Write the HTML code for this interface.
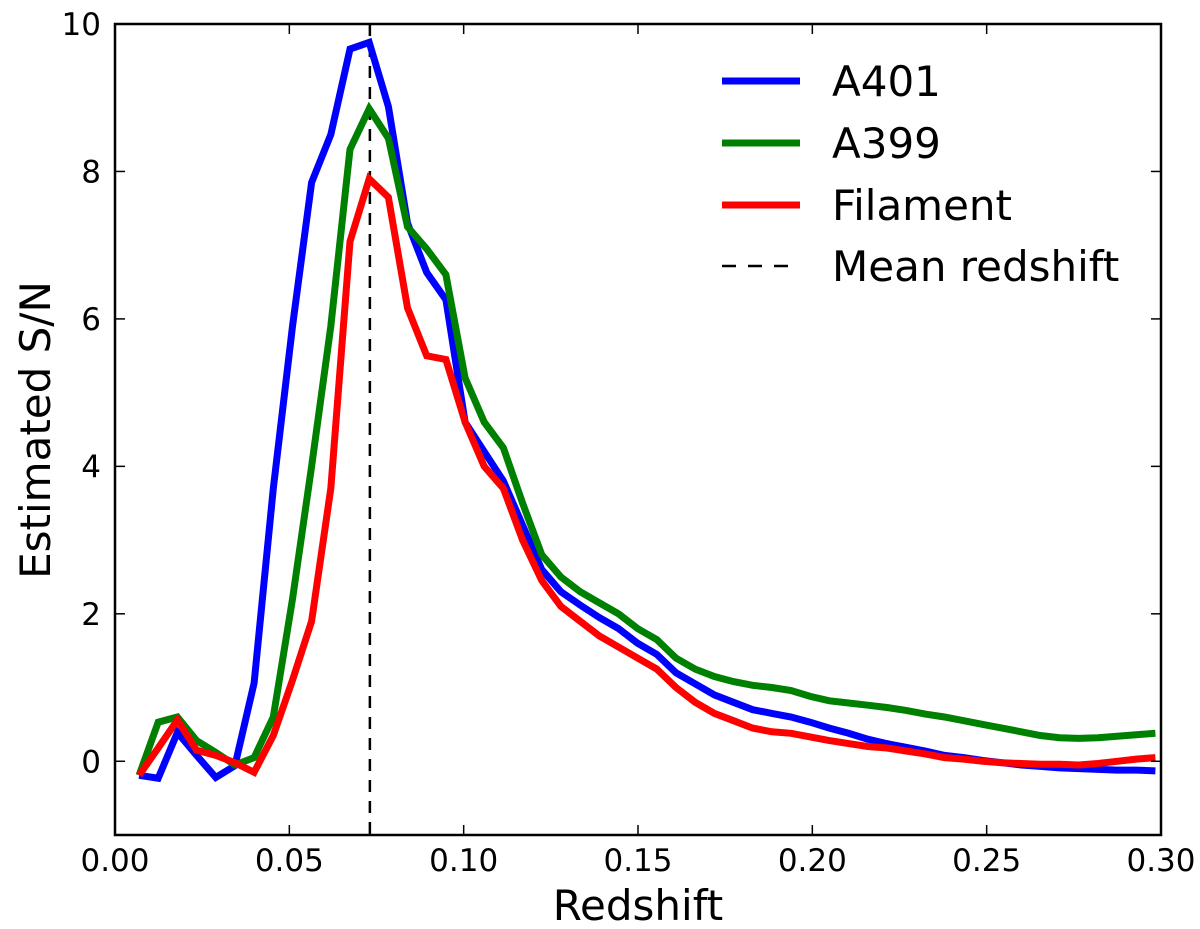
<!DOCTYPE html>
<html><head><meta charset="utf-8"><style>
html,body{margin:0;padding:0;background:#fff;}
svg{display:block;font-family:"DejaVu Sans","Liberation Sans",sans-serif;}
</style></head><body>
<svg id="chart" width="1200" height="929" viewBox="0 0 1200 929">
<defs><clipPath id="clip"><rect x="115" y="24" width="1046" height="811"/></clipPath></defs>
<g id="series" clip-path="url(#clip)"></g>
<g id="axes"></g>
</svg>
<script>
const redshift=[0.0069,0.0124,0.0179,0.0234,0.0289,0.0344,0.0399,0.0454,0.0509,0.0564,0.0619,0.0674,0.0729,0.0784,0.0839,0.0894,0.0949,0.1004,0.1059,0.1114,0.1169,0.1224,0.1279,0.1334,0.1389,0.1444,0.1499,0.1554,0.1609,0.1664,0.1719,0.1774,0.1829,0.1884,0.1939,0.1994,0.2049,0.2104,0.2159,0.2214,0.2269,0.2324,0.2379,0.2434,0.2489,0.2544,0.2599,0.2654,0.2709,0.2764,0.2819,0.2874,0.2929,0.2984];
const a401=[-0.19,-0.23,0.39,0.08,-0.22,-0.06,1.06,3.7,5.9,7.85,8.5,9.66,9.75,8.88,7.3,6.63,6.26,4.6,4.2,3.8,3.2,2.6,2.3,2.12,1.95,1.8,1.6,1.45,1.2,1.05,0.9,0.8,0.7,0.65,0.6,0.53,0.45,0.38,0.3,0.24,0.19,0.14,0.08,0.05,0.01,-0.02,-0.05,-0.07,-0.09,-0.1,-0.11,-0.12,-0.12,-0.13];
const a399=[-0.19,0.53,0.6,0.28,0.12,-0.05,0.05,0.6,2.2,4.0,5.9,8.3,8.85,8.45,7.25,6.95,6.6,5.2,4.6,4.25,3.5,2.8,2.5,2.3,2.15,2.0,1.8,1.65,1.4,1.25,1.15,1.08,1.03,1.0,0.96,0.88,0.82,0.79,0.76,0.73,0.69,0.64,0.6,0.55,0.5,0.45,0.4,0.35,0.32,0.31,0.32,0.34,0.36,0.38];
const filament=[-0.19,0.18,0.56,0.15,0.08,-0.02,-0.15,0.35,1.1,1.9,3.7,7.05,7.9,7.65,6.15,5.5,5.45,4.6,4.0,3.7,3.0,2.45,2.1,1.9,1.7,1.55,1.4,1.25,1.0,0.8,0.65,0.55,0.45,0.4,0.38,0.33,0.28,0.24,0.2,0.18,0.14,0.1,0.05,0.03,0.0,-0.02,-0.03,-0.04,-0.04,-0.05,-0.03,0.0,0.03,0.05];
const meanRedshift=0.0731;
const xTicks=[0,0.05,0.10,0.15,0.20,0.25,0.30];
const xTickLabels=["0.00","0.05","0.10","0.15","0.20","0.25","0.30"];
const yTicks=[0,2,4,6,8,10];
const yTickLabels=["0","2","4","6","8","10"];
const seriesNames=["A401","A399","Filament"];
const seriesColors=["#0000ff","#008000","#ff0000"];

const L=115,R=1161,T=24,B=835,xmin=0,xmax=0.30,ymin=-1,ymax=10;
const xs=v=>L+(v-xmin)/(xmax-xmin)*(R-L);
const ys=v=>B-(v-ymin)/(ymax-ymin)*(B-T);
const NS="http://www.w3.org/2000/svg";
function mk(tag,attrs,parent){const e=document.createElementNS(NS,tag);for(const k in attrs)e.setAttribute(k,attrs[k]);parent.appendChild(e);return e;}
const S=document.getElementById('series'),A=document.getElementById('axes');

const ml=mk('line',{x1:xs(meanRedshift),x2:xs(meanRedshift),y1:T,y2:B,stroke:'#000','stroke-width':2.5,'stroke-dasharray':'12,9'},S);



const allSeries=[a401,a399,filament];
const sNames=['a401-line','a399-line','filament-line'];
allSeries.forEach((arr,si)=>{
  const d=arr.map((v,i)=>(i?'L':'M')+xs(redshift[i]).toFixed(1)+','+ys(v).toFixed(1)).join(' ');
  const p=mk('path',{d:d,fill:'none',stroke:seriesColors[si],'stroke-width':7,'stroke-linejoin':'miter'},S);
  
  
});

const fr=mk('rect',{x:L,y:T,width:R-L,height:B-T,fill:'none',stroke:'#000','stroke-width':2.5},A);



xTicks.forEach((t,i)=>{
  const x=xs(t);
  mk('line',{x1:x,x2:x,y1:B,y2:B-10,stroke:'#000','stroke-width':1.5},A);
  mk('line',{x1:x,x2:x,y1:T,y2:T+10,stroke:'#000','stroke-width':1.5},A);
  const tx=mk('text',{x:x,y:871,'font-size':31,'text-anchor':'middle',fill:'#000'},A);
  tx.textContent=xTickLabels[i];
  
  
});
yTicks.forEach((t,i)=>{
  const y=ys(t);
  mk('line',{x1:L,x2:L+10,y1:y,y2:y,stroke:'#000','stroke-width':1.5},A);
  mk('line',{x1:R,x2:R-10,y1:y,y2:y,stroke:'#000','stroke-width':1.5},A);
  const tx=mk('text',{x:101,y:y+11,'font-size':31,'text-anchor':'end',fill:'#000'},A);
  tx.textContent=yTickLabels[i];
  
  
});
const xl=mk('text',{x:638,y:920,'font-size':42,'text-anchor':'middle',fill:'#000'},A);
xl.textContent='Redshift';


const yl=mk('text',{x:0,y:0,'font-size':42,'text-anchor':'middle',fill:'#000',transform:'translate(50,430) rotate(-90)'},A);
yl.textContent='Estimated S/N';



const lg=mk('g',{},A);


const legendY=[81,143,205,266];
seriesNames.concat(['Mean redshift']).forEach((n,i)=>{
  const y=legendY[i];
  const ln=mk('line',{x1:722,x2:800,y1:y,y2:y,stroke:i<3?seriesColors[i]:'#000','stroke-width':i<3?7:2.5},lg);
  if(i===3)ln.setAttribute('stroke-dasharray','14,12');
  
  
  const t=mk('text',{x:832,y:y+15,'font-size':42,fill:'#000'},lg);
  t.textContent=n;
  
  
});
</script>
</body></html>
